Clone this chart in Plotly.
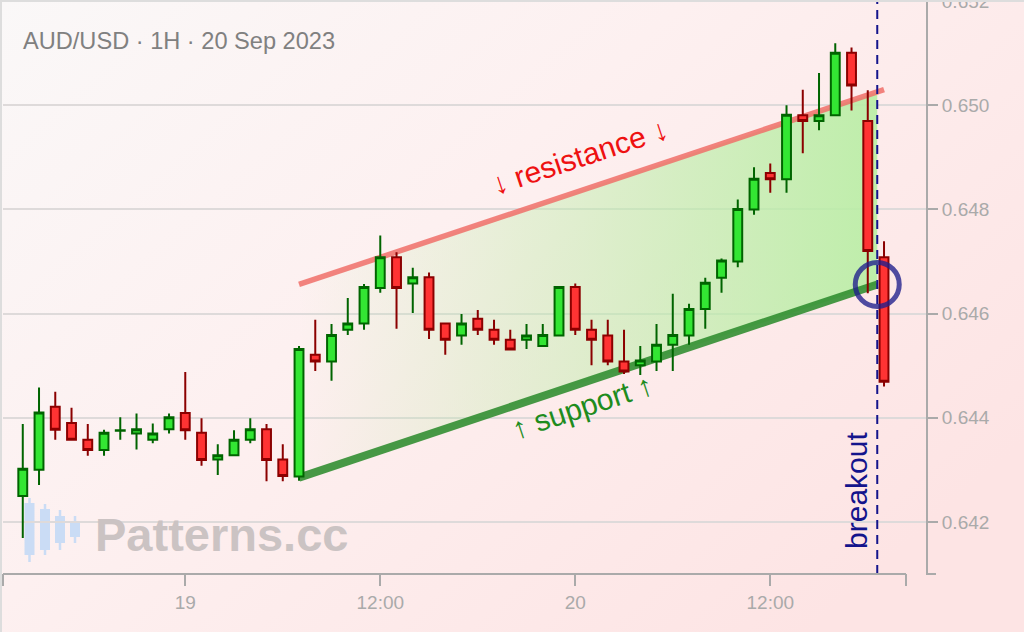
import base64
import pandas as pd
import plotly.graph_objects as go

# ---------------- data ----------------
times = pd.date_range("2023-09-18 14:00", periods=54, freq="h")
opens = [0.64250, 0.64300, 0.64421, 0.64390, 0.64358, 0.64338, 0.64375, 0.64370, 0.64358, 0.64378,
         0.64409, 0.64371, 0.64320, 0.64328, 0.64358, 0.64378, 0.64320, 0.64287, 0.64521, 0.64508,
         0.64569, 0.64581, 0.64649, 0.64708, 0.64658, 0.64670, 0.64581, 0.64558, 0.64590, 0.64569,
         0.64550, 0.64550, 0.64538, 0.64558, 0.64651, 0.64569, 0.64558, 0.64508, 0.64501, 0.64508,
         0.64540, 0.64558, 0.64609, 0.64669, 0.64700, 0.64800, 0.64870, 0.64858, 0.64981, 0.64970,
         0.64981, 0.65101, 0.64970, 0.64708]
highs = [0.64388, 0.64458, 0.64450, 0.64419, 0.64388, 0.64377, 0.64401, 0.64408, 0.64389, 0.64408,
         0.64488, 0.64399, 0.64349, 0.64376, 0.64399, 0.64388, 0.64349, 0.64538, 0.64588, 0.64580,
         0.64630, 0.64657, 0.64750, 0.64718, 0.64688, 0.64679, 0.64582, 0.64599, 0.64607, 0.64588,
         0.64569, 0.64580, 0.64580, 0.64651, 0.64658, 0.64588, 0.64588, 0.64569, 0.64538, 0.64580,
         0.64638, 0.64619, 0.64669, 0.64706, 0.64819, 0.64881, 0.64888, 0.65000, 0.65030, 0.65062,
         0.65119, 0.65111, 0.65029, 0.64739]
lows = [0.64169, 0.64271, 0.64358, 0.64356, 0.64327, 0.64327, 0.64358, 0.64339, 0.64351, 0.64370,
        0.64358, 0.64308, 0.64290, 0.64328, 0.64351, 0.64278, 0.64278, 0.64279, 0.64490, 0.64471,
        0.64559, 0.64569, 0.64640, 0.64571, 0.64601, 0.64551, 0.64521, 0.64540, 0.64559, 0.64540,
        0.64530, 0.64532, 0.64538, 0.64558, 0.64559, 0.64501, 0.64501, 0.64484, 0.64482, 0.64490,
        0.64490, 0.64540, 0.64571, 0.64640, 0.64689, 0.64790, 0.64832, 0.64832, 0.64908, 0.64952,
        0.64981, 0.64990, 0.64639, 0.64460]
closes = [0.64302, 0.64410, 0.64377, 0.64358, 0.64338, 0.64371, 0.64376, 0.64378, 0.64370, 0.64401,
          0.64376, 0.64319, 0.64328, 0.64358, 0.64378, 0.64319, 0.64288, 0.64532, 0.64508, 0.64559,
          0.64581, 0.64651, 0.64708, 0.64649, 0.64670, 0.64569, 0.64550, 0.64581, 0.64569, 0.64550,
          0.64531, 0.64558, 0.64559, 0.64651, 0.64569, 0.64550, 0.64508, 0.64489, 0.64510, 0.64540,
          0.64559, 0.64609, 0.64659, 0.64702, 0.64801, 0.64859, 0.64858, 0.64982, 0.64970, 0.64981,
          0.65101, 0.65038, 0.64720, 0.64469]

# channel lines
resistance_t = ["2023-09-19 07:00", "2023-09-20 19:00"]
resistance_y = [0.64656, 0.65030]
support_t = ["2023-09-19 07:00", "2023-09-20 18:35"]
support_y = [0.64285, 0.64656]
breakout_t = "2023-09-20 18:35"

x_range = ["2023-09-18 12:47", "2023-09-20 21:35"]
y_range = [0.641, 0.652002]
y_ticks = [0.642, 0.644, 0.646, 0.648, 0.650, 0.652]
x_tickvals = ["2023-09-19 00:00", "2023-09-19 12:00", "2023-09-20 00:00", "2023-09-20 12:00"]
x_ticktext = ["19", "12:00", "20", "12:00"]
title_text = "AUD/USD · 1H · 20 Sep 2023"

# ---------------- layout geometry ----------------
W, H = 1024, 632
ML, MR, MT, MB = 3, 98, 1, 58
PW, PH = W - ML - MR, H - MT - MB


def px(xp):
    return (xp - ML) / PW


def py(yp):
    return (H - MB - yp) / PH


FONT = "Liberation Sans, Arial, sans-serif"
AXIS = "#aaaaaa"

# resistance value at breakout time (on the drawn line)
t0, t1, tb = (pd.Timestamp(t) for t in (resistance_t[0], resistance_t[1], breakout_t))
frac = (tb - t0) / (t1 - t0)
res_at_break = resistance_y[0] + (resistance_y[1] - resistance_y[0]) * frac

fig = go.Figure()

# channel fill (gradient) on the base subplot
fig.add_trace(go.Scatter(
    x=[resistance_t[0], breakout_t, support_t[1], support_t[0], resistance_t[0]],
    y=[resistance_y[0], res_at_break, support_y[1], support_y[0], resistance_y[0]],
    mode="lines", line=dict(width=0), fill="toself",
    fillgradient=dict(type="horizontal",
                      colorscale=[[0, "rgba(185,238,165,0.0)"], [0.5, "rgba(185,238,165,0.45)"],
                                  [1, "rgba(185,238,165,0.92)"]]),
    hoverinfo="skip", showlegend=False))

fig.add_trace(go.Scatter(x=resistance_t, y=resistance_y, mode="lines",
                         line=dict(color="rgba(240,110,105,0.85)", width=5.5),
                         hoverinfo="skip", showlegend=False))
fig.add_trace(go.Scatter(x=support_t, y=support_y, mode="lines",
                         line=dict(color="rgba(45,140,45,0.88)", width=8),
                         hoverinfo="skip", showlegend=False))

# candles on an overlaying subplot so they sit above the channel
fig.add_trace(go.Candlestick(
    x=times, open=opens, high=highs, low=lows, close=closes,
    increasing=dict(fillcolor="#33e633", line=dict(color="#006400", width=2)),
    decreasing=dict(fillcolor="#ff3333", line=dict(color="#8b0000", width=2)),
    whiskerwidth=0, showlegend=False, hoverinfo="skip", xaxis="x2", yaxis="y2"))

fig.add_trace(go.Scatter(x=[breakout_t], y=[support_y[1]], mode="markers",
                         marker=dict(symbol="circle-open", size=44,
                                     line=dict(color="rgba(30,30,140,0.78)", width=5),
                                     color="rgba(30,30,140,0.78)"),
                         hoverinfo="skip", showlegend=False, xaxis="x2", yaxis="y2"))

# background gradient
svg = ('<svg xmlns="http://www.w3.org/2000/svg" width="1024" height="632">'
       '<defs><linearGradient id="g" x1="0" y1="0" x2="1" y2="0.7">'
       '<stop offset="0" stop-color="#faf8f8"/><stop offset="0.45" stop-color="#fdf0f0"/>'
       '<stop offset="1" stop-color="#fde4e4"/></linearGradient></defs>'
       '<rect width="1024" height="632" fill="url(#g)"/></svg>')
bg_src = "data:image/svg+xml;base64," + base64.b64encode(svg.encode()).decode()

shapes = []
# breakout dashed line
shapes.append(dict(type="line", xref="x", yref="paper", x0=breakout_t, x1=breakout_t, y0=0, y1=1,
                   line=dict(color="#14148c", width=2, dash="9px,6px"), layer="above"))
# x axis line + end ticks
shapes.append(dict(type="line", xref="paper", yref="paper", x0=px(3), x1=px(906), y0=0, y1=0,
                   line=dict(color=AXIS, width=2)))
for xe in (3, 906):
    shapes.append(dict(type="line", xref="paper", yref="paper", x0=px(xe), x1=px(xe),
                       y0=0, y1=py(586), line=dict(color=AXIS, width=2)))
# y axis bottom end tick
shapes.append(dict(type="line", xref="paper", yref="paper", x0=1, x1=px(936), y0=0, y1=0,
                   line=dict(color=AXIS, width=2)))
# frame lines at left / top edges
shapes.append(dict(type="line", xref="paper", yref="paper", x0=px(1), x1=px(1), y0=py(0), y1=py(632),
                   line=dict(color="#dddddd", width=2)))
shapes.append(dict(type="line", xref="paper", yref="paper", x0=px(0), x1=px(1024), y0=py(1), y1=py(1),
                   line=dict(color="#dddddd", width=2)))
# watermark logo candles
logo = [(29.5, 503, 555, 498, 562), (45, 509, 550, 504, 555), (60, 516, 543, 510, 550), (75, 522, 537, 516, 543)]
for cx, b0, b1, w0, w1 in logo:
    shapes.append(dict(type="line", xref="paper", yref="paper", x0=px(cx), x1=px(cx), y0=py(w0), y1=py(w1),
                       line=dict(color="#cadcf5", width=2.5), layer="below"))
    shapes.append(dict(type="rect", xref="paper", yref="paper", x0=px(cx - 5), x1=px(cx + 5),
                       y0=py(b0), y1=py(b1), fillcolor="#cadcf5", line=dict(width=0), layer="below"))

annotations = [
    dict(text=title_text, xref="paper", yref="paper", x=px(21), y=py(41), xanchor="left", yanchor="middle",
         showarrow=False, font=dict(family=FONT, size=23.6, color="#808080")),
    dict(text="Patterns.cc", xref="paper", yref="paper", x=px(93), y=py(534), xanchor="left",
         yanchor="middle", showarrow=False,
         font=dict(family=FONT, size=47, color="#cbc3c3", weight="bold")),
    dict(text="↓ resistance ↓", xref="x", yref="y", x="2023-09-20 00:17", y=0.64902, textangle=-18.3,
         showarrow=False, font=dict(family=FONT, size=30, color="#ee1111")),
    dict(text="↑ support ↑", xref="x", yref="y", x="2023-09-20 00:28", y=0.64421, textangle=-18.3,
         showarrow=False, font=dict(family=FONT, size=30, color="#1e8c1e")),
    dict(text="breakout", xref="x", yref="y", x=breakout_t, xshift=-21, y=0.6426, textangle=-90,
         showarrow=False, font=dict(family=FONT, size=30, color="#14148c")),
]

fig.update_layout(
    width=W, height=H,
    margin=dict(l=ML, r=MR, t=MT, b=MB, pad=0, autoexpand=False),
    paper_bgcolor="rgba(0,0,0,0)", plot_bgcolor="rgba(0,0,0,0)",
    shapes=shapes, annotations=annotations, boxgap=0.22,
    images=[dict(source=bg_src, xref="paper", yref="paper", x=px(0), y=py(0),
                 sizex=W / PW, sizey=H / PH, xanchor="left", yanchor="top",
                 sizing="stretch", layer="below")],
    xaxis=dict(type="date", range=x_range, rangeslider=dict(visible=False), automargin=False,
               showgrid=False, zeroline=False, showline=False,
               tickvals=x_tickvals, ticktext=x_ticktext,
               ticks="outside", ticklen=11, tickwidth=2, tickcolor=AXIS,
               tickfont=dict(family=FONT, size=19, color=AXIS)),
    yaxis=dict(range=y_range, side="right", tickvals=y_ticks, tickformat=".3f", automargin=False,
               showline=True, linecolor=AXIS, linewidth=2, ticklabeloverflow="allow",
               ticks="outside", ticklen=10, tickwidth=2, tickcolor=AXIS,
               showgrid=True, gridcolor="#dedada", gridwidth=1.5, zeroline=False,
               tickfont=dict(family=FONT, size=19, color=AXIS)),
    xaxis2=dict(type="date", range=x_range, overlaying="x", visible=False,
                rangeslider=dict(visible=False), showgrid=False, zeroline=False),
    yaxis2=dict(range=y_range, overlaying="y", visible=False, showgrid=False, zeroline=False),
    font=dict(family=FONT),
    showlegend=False,
    hovermode=False,
)

fig.write_html("out.html", config={"displayModeBar": False},
               post_script="document.body.style.margin='0';document.body.style.overflow='hidden';")
